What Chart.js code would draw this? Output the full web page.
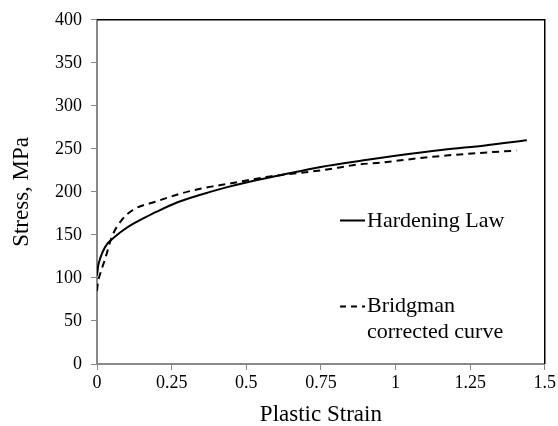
<!DOCTYPE html>
<html>
<head>
<meta charset="utf-8">
<script src="https://cdn.jsdelivr.net/npm/chart.js@4"></script>
<style>
  html, body { margin: 0; padding: 0; background: #fff; }
  #wrap { width: 558px; height: 426px; }
</style>
</head>
<body>
<div id="wrap"><canvas id="stressChart"></canvas></div>
<script>
  // values
  const hardeningStrain = [0, 0.004, 0.011, 0.02, 0.033, 0.05, 0.067, 0.09, 0.122, 0.16, 0.2, 0.27, 0.35, 0.43, 0.5, 0.61, 0.75, 0.9, 1.0, 1.16, 1.3, 1.44];
  const hardeningStress = [103, 114, 123, 131, 139, 145, 150, 156, 163, 170, 177, 188, 197, 205, 211, 219, 229, 237, 242, 249, 254, 260];

  const bridgmanStrain = [0, 0.003, 0.01, 0.028, 0.05, 0.08, 0.12, 0.2, 0.28, 0.35, 0.45, 0.58, 0.75, 0.88, 0.95, 1.1, 1.27, 1.405];
  const bridgmanStress = [85, 95, 104, 123, 148, 166, 179, 189, 198, 204, 210, 218, 225, 232, 234, 240, 245, 248];

  const xTicks = [0, 0.25, 0.5, 0.75, 1, 1.25, 1.5];
  const yTicks = [0, 50, 100, 150, 200, 250, 300, 350, 400];

  const seriesNames = ['Hardening Law', 'Bridgman', 'corrected curve'];

  function toPoints(xs, ys) {
    return xs.map((x, i) => ({ x: x, y: ys[i] }));
  }

  const serif = 'Liberation Serif';

  // top/right black frame + the legend inside the plot
  const framePlugin = {
    id: 'frame',
    afterDraw(chart) {
      const { ctx, chartArea } = chart;
      ctx.save();
      ctx.strokeStyle = '#000';
      ctx.lineWidth = 1.5;
      ctx.beginPath();
      ctx.moveTo(chartArea.left, chartArea.top);
      ctx.lineTo(chartArea.right, chartArea.top);
      ctx.lineTo(chartArea.right, chartArea.bottom);
      ctx.stroke();

      // legend
      ctx.lineWidth = 2;
      ctx.beginPath();
      ctx.moveTo(340, 220.5);
      ctx.lineTo(365, 220.5);
      ctx.stroke();
      ctx.setLineDash([6, 5]);
      ctx.beginPath();
      ctx.moveTo(340, 306.5);
      ctx.lineTo(365, 306.5);
      ctx.stroke();
      ctx.setLineDash([]);

      ctx.fillStyle = '#000';
      ctx.font = '22px "' + serif + '"';
      ctx.textBaseline = 'middle';
      ctx.textAlign = 'left';
      ctx.fillText(seriesNames[0], 367, 221);
      ctx.fillText(seriesNames[1], 367, 306);
      ctx.fillText(seriesNames[2], 367, 332);
      ctx.restore();
    }
  };

  new Chart(document.getElementById('stressChart'), {
    type: 'scatter',
    data: {
      datasets: [{
        label: seriesNames[0],
        data: toPoints(hardeningStrain, hardeningStress),
        showLine: true,
        borderColor: '#000',
        borderWidth: 2,
        pointRadius: 0,
        cubicInterpolationMode: 'monotone'
      }, {
        label: seriesNames[1] + ' ' + seriesNames[2],
        data: toPoints(bridgmanStrain, bridgmanStress),
        showLine: true,
        borderColor: '#000',
        borderWidth: 2,
        borderDash: [7, 5],
        pointRadius: 0,
        cubicInterpolationMode: 'monotone'
      }]
    },
    options: {
      responsive: true,
      maintainAspectRatio: false,
      animation: false,
      layout: { padding: { left: 0, top: 16, right: 13, bottom: 0 } },
      plugins: {
        legend: { display: false },
        tooltip: { enabled: false }
      },
      scales: {
        x: {
          type: 'linear',
          min: 0,
          max: 1.5,
          afterFit: s => { s.height = 62; },
          afterBuildTicks: s => { s.ticks = xTicks.map(v => ({ value: v })); },
          grid: { drawOnChartArea: false, drawTicks: true, tickLength: 6, color: '#888', lineWidth: 1 },
          border: { color: '#888', width: 2 },
          ticks: {
            color: '#000',
            font: { family: serif, size: 18 },
            padding: 2,
            maxRotation: 0,
            callback: v => String(v)
          },
          title: {
            display: true,
            text: 'Plastic Strain',
            color: '#000',
            font: { family: serif, size: 23 },
            padding: { top: 0, bottom: -3 }
          }
        },
        y: {
          type: 'linear',
          min: 0,
          max: 400,
          afterFit: s => { s.width = 97; },
          afterBuildTicks: s => { s.ticks = yTicks.map(v => ({ value: v })); },
          grid: { drawOnChartArea: false, drawTicks: true, tickLength: 6, color: '#888', lineWidth: 1 },
          border: { color: '#888', width: 2 },
          ticks: {
            color: '#000',
            font: { family: serif, size: 18 },
            padding: 9
          },
          title: {
            display: true,
            text: 'Stress, MPa',
            color: '#000',
            font: { family: serif, size: 23 },
            padding: { top: 8, bottom: 0 }
          }
        }
      }
    },
    plugins: [framePlugin]
  });
</script>
</body>
</html>
